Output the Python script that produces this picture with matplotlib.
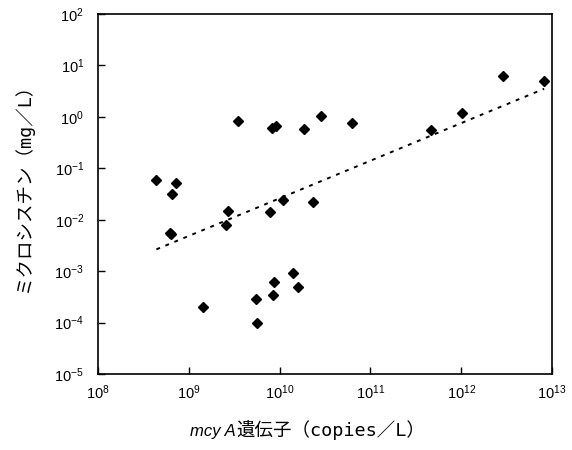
import numpy as np
import matplotlib
matplotlib.use("Agg")
import matplotlib.pyplot as plt
from matplotlib.ticker import LogLocator, NullLocator, FuncFormatter
from matplotlib.offsetbox import TextArea, HPacker, AnchoredOffsetbox

plt.rcParams['font.family'] = ['Liberation Sans', 'Noto Sans CJK JP', 'DejaVu Sans']
plt.rcParams['mathtext.fontset'] = 'custom'
plt.rcParams['mathtext.rm'] = 'Liberation Sans'
plt.rcParams['mathtext.it'] = 'Liberation Sans:italic'

# mcyA gene copies (copies/L) and microcystin (mg/L)
gene_copies = [4.4e8, 7.2e8, 6.6e8, 6.2e8, 6.3e8, 1.45e9, 3.46e9, 2.7e9, 2.6e9,
               5.5e9, 5.7e9, 8.3e9, 9.2e9, 7.8e9, 1.1e10, 8.75e9, 8.4e9,
               1.4e10, 1.58e10, 1.86e10, 2.35e10, 2.86e10, 6.3e10, 4.6e11,
               1.01e12, 2.9e12, 8.2e12]
microcystin = [0.059, 0.0515, 0.032, 0.0056, 0.0052, 2.0e-4, 0.83, 0.0149, 0.008,
               2.9e-4, 1.0e-4, 0.60, 0.66, 0.0139, 0.024, 6.1e-4, 3.5e-4,
               9.3e-4, 5.0e-4, 0.58, 0.022, 1.02, 0.77, 0.55,
               1.17, 6.1, 5.0]

x_label_it = 'mcy A'
x_label_rest = '遺伝子（copies／L）'
y_label = 'ミクロシスチン（mg／L）'

label_family = ['DejaVu Sans Mono', 'Noto Sans CJK JP', 'DejaVu Sans']

x = np.array(gene_copies)
y = np.array(microcystin)

# power-law trend line (straight line in log-log space)
b, a = np.polyfit(np.log10(x), np.log10(y), 1)
xs = np.logspace(np.log10(x.min()), np.log10(x.max()), 100)
ys = 10 ** (a + b * np.log10(xs))

fig = plt.figure(figsize=(5.72, 4.5), dpi=100)
ax = fig.add_axes([0.1713, 0.1689, 0.7937, 0.8])

ax.plot(xs, ys, color='black', linestyle=(0, (2, 3)), linewidth=1.4)
ax.plot(x, y, linestyle='none', marker='D', markersize=5.5, color='black')

ax.set_xscale('log')
ax.set_yscale('log')
ax.set_xlim(1e8, 1e13)
ax.set_ylim(1e-5, 1e2)

pow_fmt = FuncFormatter(lambda v, pos: r'$\mathrm{10^{%d}}$' % round(np.log10(v)))
for axis in (ax.xaxis, ax.yaxis):
    axis.set_major_locator(LogLocator(base=10, numticks=10))
    axis.set_minor_locator(NullLocator())
    axis.set_major_formatter(pow_fmt)
ax.tick_params(which='major', direction='in', length=5, width=1, labelsize=10.5,
               top=False, right=False)
ax.tick_params(axis='x', pad=7)
ax.tick_params(axis='y', pad=10)
for s in ax.spines.values():
    s.set_linewidth(1.2)

# x label: italic gene name followed by Japanese text, on one baseline
t1 = TextArea(x_label_it, textprops=dict(style='italic', family='Liberation Sans', size=12))
t2 = TextArea(x_label_rest, textprops=dict(family=label_family, size=13.3))
box = HPacker(children=[t1, t2], align='baseline', pad=0, sep=1)
xlab = AnchoredOffsetbox(loc='center', child=box, pad=0, borderpad=0, frameon=False,
                         bbox_to_anchor=(0.5376, 0.0444), bbox_transform=fig.transFigure)
ax.add_artist(xlab)

ax.set_ylabel(y_label, fontsize=13.3, family=label_family)
ax.yaxis.set_label_coords(-0.143, 0.528)

fig.savefig('out.png', dpi=100)
